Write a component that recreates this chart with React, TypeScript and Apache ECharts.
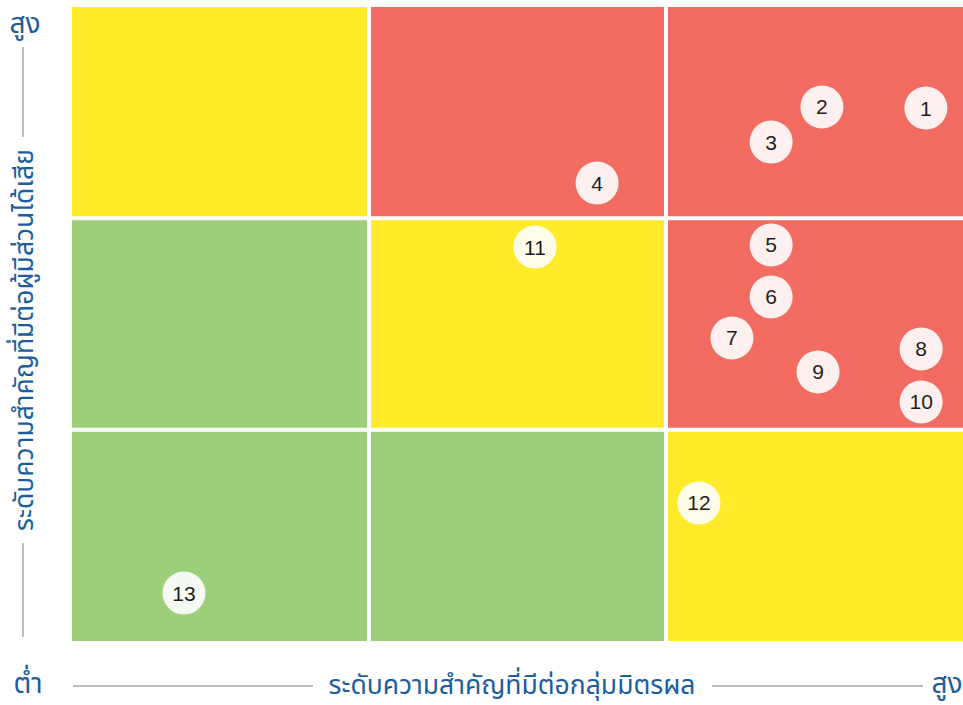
import React, { useEffect, useRef } from "react";
import * as echarts from "echarts";

const pointIds = ["1", "2", "3", "4", "5", "6", "7", "8", "9", "10", "11", "12", "13"];
const impactGroup = [2.875, 2.525, 2.354, 1.768, 2.354, 2.354, 2.222, 2.859, 2.512, 2.859, 1.559, 2.111, 0.377];
const impactStake = [2.522, 2.527, 2.361, 2.167, 1.874, 1.628, 1.434, 1.382, 1.273, 1.131, 1.864, 0.653, 0.227];

// cells: [col, row, level] level 0 = green, 1 = yellow, 2 = red
const cellCols = [0, 1, 2, 0, 1, 2, 0, 1, 2];
const cellRows = [0, 0, 0, 1, 1, 1, 2, 2, 2];
const cellLevels = [0, 0, 1, 0, 1, 2, 1, 2, 2];
const levelColors = ["#9DCE7A", "#FFEB29", "#F26C61"];

const xTitle = "ระดับความสำคัญที่มีต่อกลุ่มมิตรผล";
const yTitle = "ระดับความสำคัญที่มีต่อผู้มีส่วนได้เสีย";
const lowLabel = "ต่ำ";
const highLabel = "สูง";

const FONT = "'Noto Sans Thai', 'Noto Sans', sans-serif";
const TXT = "#1B5E9E";

export default function App() {
  const ref = useRef<HTMLDivElement>(null);
  useEffect(() => {
    if (!ref.current) return;
    const chart = echarts.init(ref.current, undefined, { renderer: "svg" });
    const cells = cellCols.map((c, i) => [c, cellRows[i], cellLevels[i]]);
    const points = pointIds.map((id, i) => [impactGroup[i], impactStake[i], id]);
    chart.setOption({
      animation: false,
      grid: { left: 72, right: 0, top: 7, bottom: 64 },
      xAxis: { type: "value", min: 0, max: 3, show: false },
      yAxis: { type: "value", min: 0, max: 3, show: false },
      series: [
        {
          type: "custom",
          data: cells,
          silent: true,
          renderItem: (params: any, api: any) => {
            const c = api.value(0);
            const r = api.value(1);
            const lv = api.value(2);
            const p0 = api.coord([c, r + 1]);
            const p1 = api.coord([c + 1, r]);
            const g = 2;
            const x0 = p0[0] + (c > 0 ? g : 0);
            const x1 = p1[0] - (c < 2 ? g : 0);
            const y0 = p0[1] + (r < 2 ? g : 0);
            const y1 = p1[1] - (r > 0 ? g : 0);
            return {
              type: "rect",
              shape: { x: x0, y: y0, width: x1 - x0, height: y1 - y0 },
              style: { fill: levelColors[lv] },
            };
          },
          z: 1,
        },
        {
          type: "scatter",
          data: points,
          symbol: "circle",
          symbolSize: 43,
          itemStyle: { color: "rgba(255,255,255,0.9)", opacity: 1 },
          label: {
            show: true,
            position: "inside",
            formatter: (p: any) => p.value[2],
            color: "#1E1E1E",
            fontSize: 21,
            fontFamily: "'Liberation Sans', Arial, sans-serif",
          },
          z: 3,
        },
      ],
      graphic: [
        { type: "text", x: 28, y: 684, style: { text: lowLabel, fill: TXT, fontSize: 28, fontFamily: FONT, align: "center", verticalAlign: "middle" } },
        { type: "text", x: 947, y: 684, style: { text: highLabel, fill: TXT, fontSize: 28, fontFamily: FONT, align: "center", verticalAlign: "middle" } },
        { type: "text", x: 25, y: 24, style: { text: highLabel, fill: TXT, fontSize: 28, fontFamily: FONT, align: "center", verticalAlign: "middle" } },
        {
          type: "text",
          x: 512,
          y: 686,
          style: { text: xTitle, fill: TXT, fontSize: 26.5, fontFamily: FONT, align: "center", verticalAlign: "middle" },
        },
        {
          type: "text",
          x: 25,
          y: 340,
          rotation: Math.PI / 2,
          style: { text: yTitle, fill: TXT, fontSize: 26.5, fontFamily: FONT, align: "center", verticalAlign: "middle" },
        },
        { type: "line", shape: { x1: 73, y1: 686, x2: 313, y2: 686 }, style: { stroke: "#A8A8A8", lineWidth: 1.5 } },
        { type: "line", shape: { x1: 712, y1: 686, x2: 923, y2: 686 }, style: { stroke: "#A8A8A8", lineWidth: 1.5 } },
        { type: "line", shape: { x1: 23, y1: 47, x2: 23, y2: 137 }, style: { stroke: "#A8A8A8", lineWidth: 1.5 } },
        { type: "line", shape: { x1: 23, y1: 543, x2: 23, y2: 637 }, style: { stroke: "#A8A8A8", lineWidth: 1.5 } },
      ],
    });
    return () => chart.dispose();
  }, []);
  return <div ref={ref} style={{ width: 963, height: 705, position: "absolute", left: 0, top: 0 }} />;
}
